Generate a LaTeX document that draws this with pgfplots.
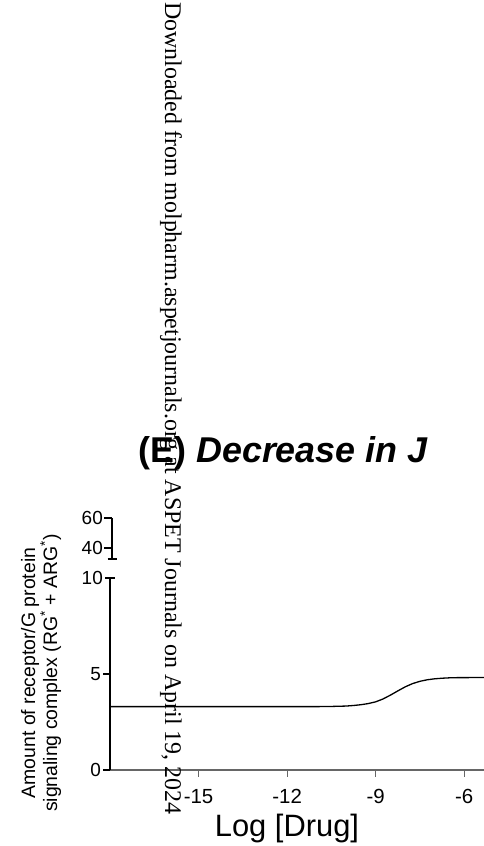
\documentclass[border=0pt]{standalone}
\usepackage{pgfplots}
\pgfplotsset{compat=1.18}
\usepackage{fontspec}
\setmainfont{Liberation Sans}
\newfontfamily\serif{Liberation Serif}
\begin{document}
\begin{tikzpicture}[x=1bp,y=1bp]
\useasboundingbox (0,0) rectangle (484,846);
\begin{axis}[
  at={(110bp,76bp)}, anchor=south west,
  scale only axis, width=374bp, height=192bp,
  xmin=-18, xmax=-5.33, ymin=0, ymax=10,
  axis x line*=bottom, axis y line*=left,
  x axis line style={black!60, line width=1.2bp},
  y axis line style={black, line width=1.2bp},
  xtick={-15,-12,-9,-6}, xticklabels={-15,-12,-9,-6},
  ytick={0,5}, yticklabels={0,5},
  extra y ticks={10}, extra y tick labels={10},
  extra tick style={tick align=center, major tick length=10bp},
  tick align=outside, major tick length=7bp,
  x tick style={black!60, line width=1.2bp},
  y tick style={black, line width=1.2bp},
  xticklabel style={font=\fontsize{20.5}{20.5}\selectfont, inner sep=0pt, yshift=-12bp},
  yticklabel style={font=\fontsize{19}{19}\selectfont, inner sep=0pt, xshift=-2bp},
  clip=false,
]
\addplot[black, line width=1.3bp] coordinates {
(-18,3.30) (-17,3.30) (-16,3.30) (-15,3.30) (-14,3.30) (-13,3.30) (-12,3.30)
(-11,3.30) (-10.5,3.31) (-10,3.33) (-9.75,3.36) (-9.5,3.40) (-9.25,3.46)
(-9,3.55) (-8.75,3.70) (-8.5,3.90) (-8.25,4.12) (-8,4.33) (-7.75,4.50)
(-7.5,4.62) (-7.25,4.70) (-7,4.75) (-6.75,4.78) (-6.5,4.80) (-6.25,4.81)
(-6,4.81) (-5.33,4.82)
};
\end{axis}
\begin{axis}[
  at={(112bp,287bp)}, anchor=south west,
  scale only axis, width=10bp, height=41bp,
  xmin=0, xmax=1, ymin=32.67, ymax=60,
  axis x line=none, axis y line*=left,
  y axis line style={black, line width=1.2bp},
  ytick={40,60}, yticklabels={40,60},
  extra y ticks={32.67}, extra y tick labels={},
  extra tick style={tick align=center, major tick length=9bp},
  tick align=outside, major tick length=8bp,
  y tick style={black, line width=1.2bp},
  yticklabel style={font=\fontsize{19}{19}\selectfont, inner sep=0pt, xshift=-1bp},
]
\end{axis}
\node[anchor=base, inner sep=0] at (283,383) {\fontsize{36}{36}\selectfont\bfseries (E) \itshape Decrease in J};
\node[anchor=base, inner sep=0] at (287,9) {\fontsize{31}{31}\selectfont Log [Drug]};
\node[rotate=90, anchor=base, inner sep=0] at (35,173) {\fontsize{19.5}{19.5}\selectfont Amount of receptor/G protein};
\node[rotate=90, anchor=base, inner sep=0] at (57,173) {\fontsize{19.5}{19.5}\selectfont signaling complex (RG\textsuperscript{*} + ARG\textsuperscript{*})};
\node[rotate=-90, anchor=base west, inner sep=0] at (165,844) {\serif\fontsize{24}{24}\selectfont Downloaded from molpharm.aspetjournals.org at ASPET Journals on April 19, 2024};
\end{tikzpicture}
\end{document}
